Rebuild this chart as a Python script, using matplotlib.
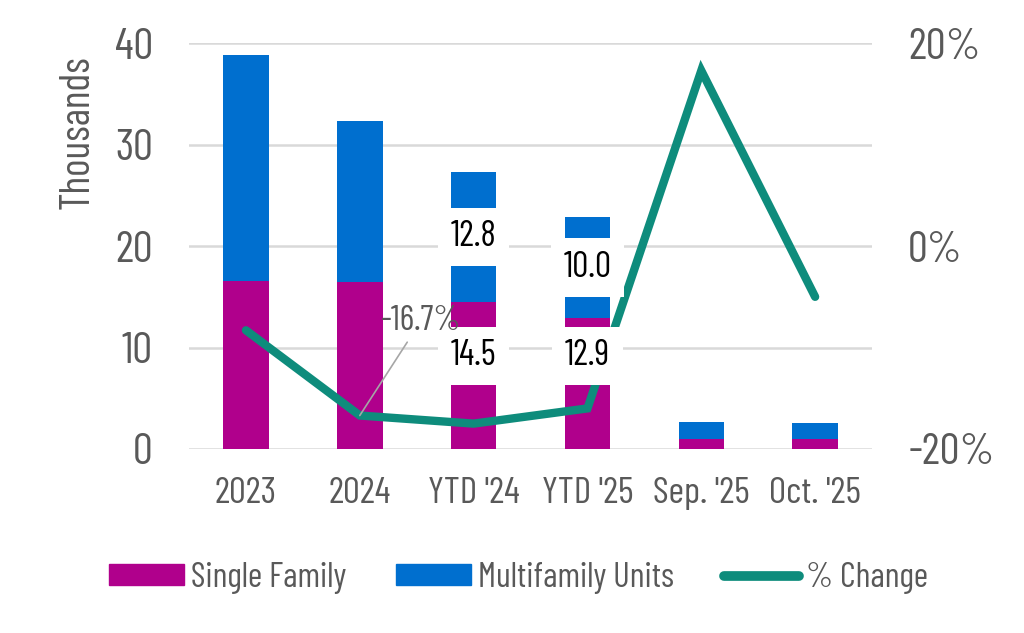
import matplotlib
matplotlib.use("Agg")
import matplotlib.pyplot as plt
from matplotlib.patches import Patch
from matplotlib.lines import Line2D
import numpy as np

plt.rcParams["font.family"] = ["Barlow Condensed", "DejaVu Sans"]

categories = ["2023", "2024", "YTD '24", "YTD '25", "Sep. '25", "Oct. '25"]
single_family = [16.6, 16.5, 14.5, 12.9, 1.0, 1.0]
multifamily = [22.2, 15.8, 12.8, 10.0, 1.7, 1.6]
pct_change = [-8.3, -16.7, -17.5, -16.0, 17.3, -5.0]

# which bars get value labels, and how far the single-family label is nudged up
label_bars = [2, 3]
sf_label_nudge = [14, 20]

SF_COLOR = "#B0008C"
MF_COLOR = "#006FCF"
LINE_COLOR = "#0E8C7C"
GRAY = "#595959"

fig = plt.figure(figsize=(10.24, 6.33), dpi=100)
ax = fig.add_axes([0.1846, 0.2907, 0.667, 0.641])
ax2 = ax.twinx()

x = np.arange(len(categories))
ax.bar(x, single_family, width=0.4, color=SF_COLOR, zorder=2)
ax.bar(x, multifamily, width=0.4, bottom=single_family, color=MF_COLOR, zorder=2)

ax.set_xlim(-0.5, len(categories) - 0.5)
ax.set_ylim(0, 40)
ax.set_yticks([0, 10, 20, 30, 40])
ax.grid(axis="y", color="#d9d9d9", lw=1.8)
ax.set_axisbelow(True)
ax.set_xticks(x)
ax.set_xticklabels(categories)
ax.tick_params(axis="x", length=0, pad=20, labelsize=27, labelcolor=GRAY)
ax.tick_params(axis="y", length=0, pad=26, labelsize=32, labelcolor=GRAY)
ax.set_ylabel("Thousands", fontsize=30, color=GRAY, labelpad=12, y=0.78)

ax2.plot(x, pct_change, color=LINE_COLOR, lw=6, solid_capstyle="round",
         solid_joinstyle="miter", zorder=3)
ax2.set_ylim(-20, 20)
ax2.set_yticks([-20, 0, 20])
ax2.set_yticklabels(["-20%", "0%", "20%"])
ax2.tick_params(axis="y", length=0, pad=26, labelsize=32, labelcolor=GRAY)

for a in (ax, ax2):
    for s in a.spines.values():
        s.set_visible(False)

box = dict(boxstyle="square,pad=0.35", fc="white", ec="none")
for i, nudge in zip(label_bars, sf_label_nudge):
    sf = single_family[i]
    mf = multifamily[i]
    ax2.annotate(f"{sf:.1f}", xy=(i, sf / 2), xycoords=ax.transData,
                 xytext=(0, nudge), textcoords="offset points",
                 ha="center", va="center", fontsize=26, color="black",
                 bbox=box, zorder=5)
    ax2.annotate(f"{mf:.1f}", xy=(i, sf + mf / 2), xycoords=ax.transData,
                 ha="center", va="center", fontsize=26, color="black",
                 bbox=box, zorder=5)

ax2.annotate(f"{pct_change[1]:.1f}%", xy=(1, pct_change[1]),
             xytext=(44, 68), textcoords="offset points",
             ha="center", va="center", fontsize=25, color=GRAY,
             arrowprops=dict(arrowstyle="-", color="#a6a6a6", lw=1.2,
                             shrinkA=2, shrinkB=0), zorder=5)

handles = [
    Patch(color=SF_COLOR, label="Single Family"),
    Patch(color=MF_COLOR, label="Multifamily Units"),
    Line2D([0], [0], color=LINE_COLOR, lw=7, solid_capstyle="round",
           label="% Change"),
]
leg = fig.legend(handles=handles, loc="center", bbox_to_anchor=(0.506, 0.087),
                 ncol=3, frameon=False, fontsize=25, handlelength=2.16,
                 handleheight=0.55, columnspacing=1.44, handletextpad=0.2)
for t in leg.get_texts():
    t.set_color(GRAY)

fig.savefig("out.png", dpi=100)
